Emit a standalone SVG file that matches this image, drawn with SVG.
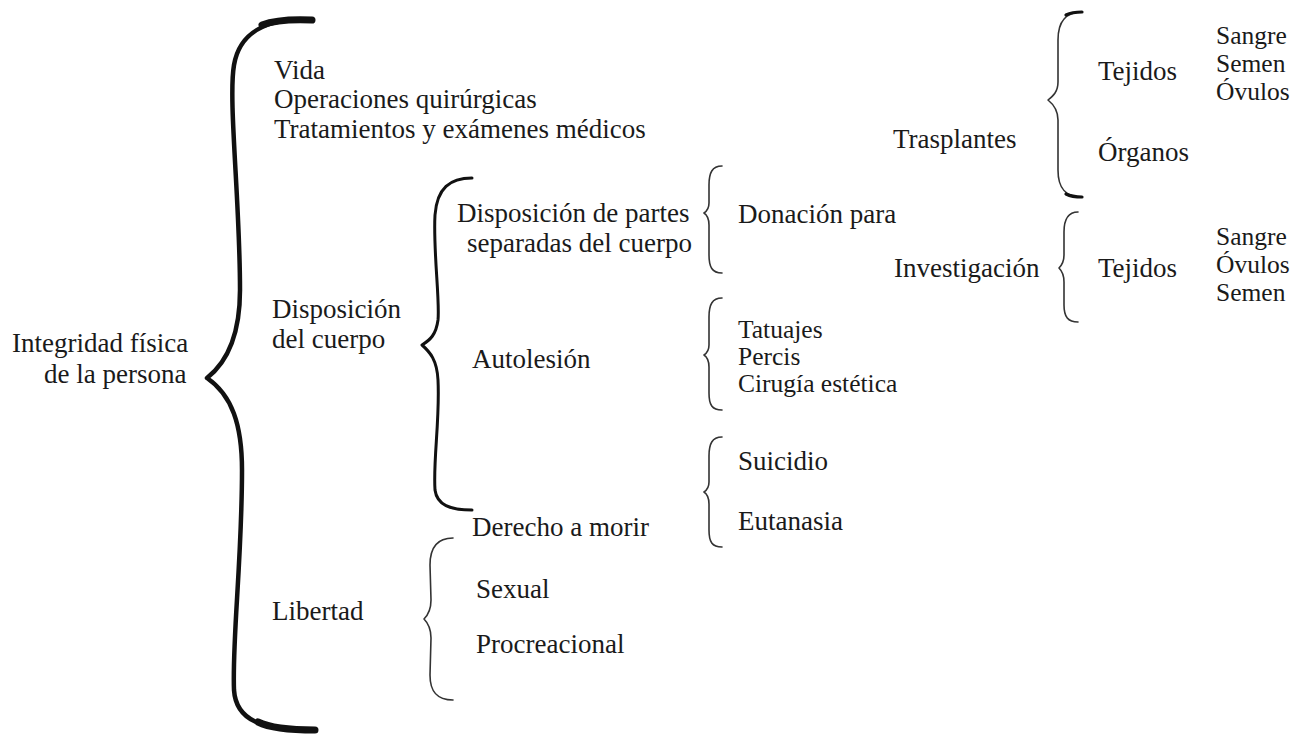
<svg xmlns="http://www.w3.org/2000/svg" width="1295" height="736" viewBox="0 0 1295 736" font-family="'Liberation Serif', 'Times New Roman', serif">
<style>
text{font-family:"Liberation Serif","Times New Roman",serif;font-size:27px;fill:#1a1a1a}
.t{font-size:25.5px}
.b{fill:none;stroke:#111;stroke-linecap:round;stroke-linejoin:round}
.big{stroke-width:4.5}
.med{stroke-width:3}
.sm{stroke-width:1.6;stroke:#333}
.end{stroke-width:3.2}
</style>
<rect width="1295" height="736" fill="#fff"/>
<g id="connectors">
<path class="b big" d="M 310 20 C 270 18, 240 30, 234 65 C 228 100, 240 200, 240 290 C 240 330, 230 360, 207 378 C 232 395, 242 425, 242 470 C 242 560, 232 640, 234 690 C 236 720, 260 730, 315 730"/>
<path class="b" stroke-width="7" d="M 312 20 C 290 19, 275 20, 262 25 M 315 730 C 290 730, 270 728, 258 722"/>
<path class="b med" d="M 472 178 C 450 178, 437 188, 435 215 C 433 250, 440 300, 438 320 C 436 335, 430 340, 422 345 C 430 352, 437 360, 438 380 C 440 420, 433 460, 435 490 C 437 505, 450 510, 472 510"/>
<path class="b sm" d="M 722 166 C 712 166, 709 173, 709 185 L 709 203 C 709 208, 707 211, 704 213 C 707 215, 709 219, 709 225 L 709 255 C 709 267, 712 273, 722 273"/>
<path class="b sm" d="M 722 298 C 712 298, 709 305, 709 317 L 709 345 C 709 350, 707 353, 704 355 C 707 357, 709 361, 709 367 L 709 393 C 709 405, 712 410, 722 410"/>
<path class="b sm" d="M 722 437 C 712 437, 709 444, 709 456 L 709 482 C 709 487, 707 490, 704 492 C 707 494, 709 498, 709 504 L 709 530 C 709 542, 712 547, 722 547"/>
<path class="b sm" d="M 453 538 C 437 538, 430 548, 430 565 L 431 600 C 431 610, 428 615, 424 619 C 428 623, 431 628, 431 638 L 430 675 C 430 692, 437 700, 453 700"/>
<path class="b sm" stroke-width="2" d="M 1082 12 C 1065 12, 1058 22, 1058 40 L 1058 82 C 1058 92, 1053 96, 1048 100 C 1053 104, 1058 110, 1058 120 L 1058 170 C 1058 188, 1065 197, 1082 197"/>
<path class="b end" d="M 1082 12 C 1075 12, 1070 13, 1066 15 M 1082 197 C 1075 197, 1070 196, 1066 194"/>
<path class="b sm" d="M 1078 212 C 1068 212, 1064 220, 1064 232 L 1064 255 C 1064 262, 1062 265, 1059 268 C 1062 271, 1064 275, 1064 282 L 1064 305 C 1064 317, 1068 322, 1078 322"/>
</g>
<g id="root"><text x="12" y="352">Integridad física</text><text x="44" y="383">de la persona</text></g>
<g id="vida"><text x="274" y="79">Vida</text><text x="274" y="108">Operaciones quirúrgicas</text><text x="274" y="138">Tratamientos y exámenes médicos</text></g>
<g id="disposicion"><text x="272" y="318">Disposición</text><text x="272" y="348">del cuerpo</text></g>
<g id="libertad"><text x="272" y="620">Libertad</text></g>
<g id="partes"><text x="457" y="222">Disposición de partes</text><text x="467" y="252">separadas del cuerpo</text></g>
<g id="autolesion"><text x="472" y="368">Autolesión</text></g>
<g id="morir"><text x="472" y="536">Derecho a morir</text></g>
<g id="sexual"><text x="476" y="598">Sexual</text></g>
<g id="procreacional"><text x="476" y="653">Procreacional</text></g>
<g id="donacion"><text x="738" y="223">Donación para</text></g>
<g id="trasplantes"><text x="893" y="148">Trasplantes</text></g>
<g id="investigacion"><text x="894" y="277">Investigación</text></g>
<g id="autolesion-list"><text class="t" x="738" y="338">Tatuajes</text><text class="t" x="738" y="365">Percis</text><text class="t" x="738" y="392">Cirugía estética</text></g>
<g id="suicidio"><text x="738" y="470">Suicidio</text></g>
<g id="eutanasia"><text x="738" y="530">Eutanasia</text></g>
<g id="tejidos1"><text x="1098" y="80">Tejidos</text></g>
<g id="organos"><text x="1098" y="161">Órganos</text></g>
<g id="tejidos2"><text x="1098" y="277">Tejidos</text></g>
<g id="list1"><text class="t" x="1216" y="44">Sangre</text><text class="t" x="1216" y="72">Semen</text><text class="t" x="1216" y="100">Óvulos</text></g>
<g id="list2"><text class="t" x="1216" y="245">Sangre</text><text class="t" x="1216" y="273">Óvulos</text><text class="t" x="1216" y="301">Semen</text></g>
</svg>
